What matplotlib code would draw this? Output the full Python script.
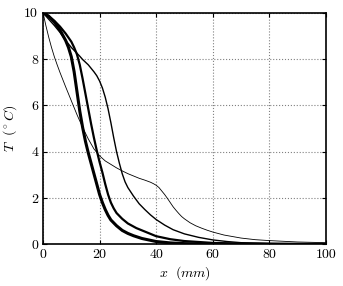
import matplotlib
matplotlib.use("Agg")
import matplotlib.pyplot as plt

# values (x in mm, T in deg C)
x_a = [0, 1, 2, 3, 4, 5, 6, 8, 10, 12, 14, 16, 18, 20, 22, 24, 26, 28, 30, 32, 34, 36, 38, 39, 40,
       41, 42, 43, 44, 45, 46, 47, 48, 49, 50, 52, 54, 56, 58, 60, 64, 70, 75, 80, 90, 100]
t_a = [10, 9.45, 8.95, 8.5, 8.1, 7.75, 7.42, 6.8, 6.2, 5.6, 5.05, 4.55, 4.12, 3.82, 3.6, 3.45, 3.3,
       3.17, 3.05, 2.95, 2.85, 2.77, 2.68, 2.62, 2.55, 2.45, 2.3, 2.15, 1.98, 1.8, 1.62, 1.47, 1.33,
       1.2, 1.1, 0.93, 0.8, 0.7, 0.61, 0.53, 0.4, 0.27, 0.2, 0.16, 0.1, 0.07]

x_b = [0, 2, 4, 6, 8, 10, 12, 13, 14, 16, 18, 19, 20, 21, 22, 23, 24, 25, 26, 27, 28, 29, 30, 32,
       34, 36, 38, 40, 43, 46, 50, 55, 60, 65, 70, 80, 100]
t_b = [10, 9.72, 9.45, 9.15, 8.8, 8.5, 8.25, 8.12, 7.98, 7.75, 7.45, 7.28, 7.05, 6.75, 6.35, 5.85,
       5.25, 4.6, 4.0, 3.5, 3.05, 2.7, 2.45, 2.08, 1.75, 1.5, 1.27, 1.07, 0.83, 0.63, 0.45, 0.3,
       0.19, 0.12, 0.07, 0.03, 0.01]

x_c = [0, 2, 4, 6, 8, 10, 11, 12, 13, 14, 15, 16, 17, 18, 19, 20, 21, 22, 23, 24, 25, 26, 28, 30,
       33, 36, 40, 45, 50, 60, 70, 100]
t_c = [10, 9.85, 9.65, 9.4, 9.1, 8.75, 8.5, 8.2, 7.75, 7.15, 6.5, 5.85, 5.2, 4.6, 4.05, 3.55, 3.1,
       2.6, 2.15, 1.8, 1.55, 1.35, 1.1, 0.9, 0.7, 0.55, 0.35, 0.22, 0.14, 0.06, 0.03, 0]

x_d = [0, 2, 4, 6, 8, 9, 10, 11, 12, 13, 14, 15, 16, 17, 18, 19, 20, 21, 22, 23, 24, 26, 28, 30,
       32, 35, 40, 45, 50, 60, 100]
t_d = [10, 9.85, 9.6, 9.25, 8.8, 8.5, 8.1, 7.45, 6.6, 5.75, 5.05, 4.45, 3.95, 3.5, 3.05, 2.6, 2.15,
       1.8, 1.5, 1.25, 1.05, 0.8, 0.6, 0.47, 0.37, 0.25, 0.12, 0.06, 0.03, 0.01, 0]

x_ticks = [0, 20, 40, 60, 80, 100]
y_ticks = [0, 2, 4, 6, 8, 10]

plt.rcParams["font.family"] = "serif"
plt.rcParams["font.serif"] = ["cmr10"]
plt.rcParams["mathtext.fontset"] = "cm"
plt.rcParams["axes.unicode_minus"] = False

fig = plt.figure(figsize=(3.43, 2.86), dpi=100)
ax = fig.add_axes([0.1254, 0.1458, 0.8246, 0.8098])

ax.plot(x_a, t_a, color="k", lw=0.6)
ax.plot(x_b, t_b, color="k", lw=1.0)
ax.plot(x_c, t_c, color="k", lw=1.6)
ax.plot(x_d, t_d, color="k", lw=2.2)

ax.set_xlim(0, 100)
ax.set_ylim(0, 10)
ax.set_xticks(x_ticks)
ax.set_yticks(y_ticks)
ax.tick_params(direction="in", top=True, right=True, labelsize=10, length=3)
ax.grid(True, linestyle=":", color="0.5", lw=0.8)
for sp in ax.spines.values():
    sp.set_linewidth(1.2)

ax.set_xlabel(r"$x\ \ (mm)$", fontsize=10, labelpad=2)
ax.set_ylabel(r"$T\ \ (^\circ C)$", fontsize=10)

fig.savefig("out.png", dpi=100)
